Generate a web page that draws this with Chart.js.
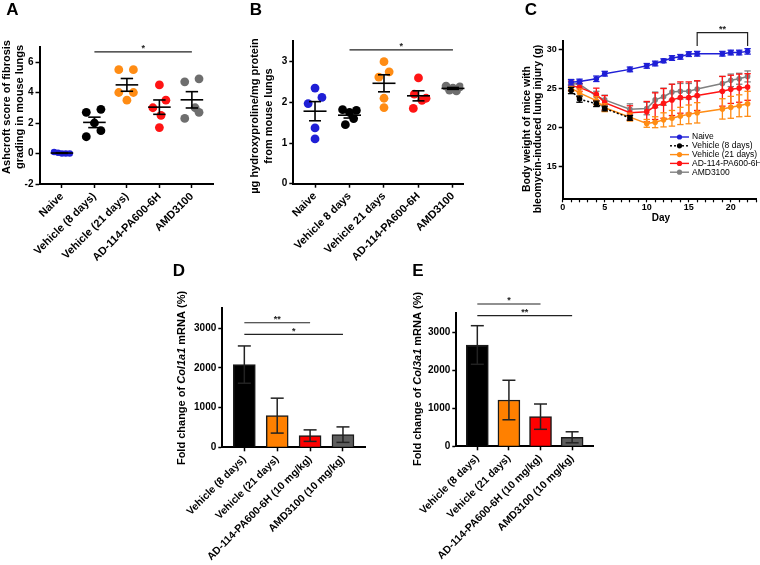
<!DOCTYPE html>
<html>
<head>
<meta charset="utf-8">
<script src="https://cdn.jsdelivr.net/npm/chart.js@4.4.0/dist/chart.umd.min.js"></script>
<style>
  body { margin: 0; background: #fff; }
  #figure { position: relative; width: 760px; height: 565px; overflow: hidden; background: #fff; }
  #figure canvas { position: absolute; }
</style>
</head>
<body>
<div id="figure">
  <canvas id="panelA" width="250" height="265" style="left:0;top:0"></canvas>
  <canvas id="panelB" width="250" height="265" style="left:250px;top:0"></canvas>
  <canvas id="panelC" width="260" height="235" style="left:500px;top:0"></canvas>
  <canvas id="panelD" width="250" height="310" style="left:140px;top:255px"></canvas>
  <canvas id="panelE" width="250" height="310" style="left:375px;top:255px"></canvas>
</div>
<script>
// ---- data ----
const groupsA = ['Naive', 'Vehicle (8 days)', 'Vehicle (21 days)', 'AD-114-PA600-6H', 'AMD3100']
const groupsB = ['Naive', 'Vehicle 8 days', 'Vehicle 21 days', 'AD-114-PA600-6H', 'AMD3100']

// A: Ashcroft score per mouse
const ashNaive = [0.1, 0.05, 0.0, 0.0, 0.0]
const ashVeh8 = [2.7, 2.9, 2.0, 1.1, 1.5]
const ashVeh21 = [5.5, 5.5, 3.5, 4.0, 4.0]
const ashAD = [4.5, 3.5, 3.0, 2.5, 1.7]
const ashAMD = [4.7, 4.9, 3.0, 2.7, 2.3]

// B: hydroxyproline (ug/mg protein) per mouse
const hypNaive = [2.35, 2.12, 1.97, 1.37, 1.1]
const hypVeh8 = [1.82, 1.75, 1.8, 1.6, 1.45]
const hypVeh21 = [3.0, 2.75, 2.62, 2.1, 1.87]
const hypAD = [2.6, 2.2, 2.1, 2.05, 1.85]
const hypAMD = [2.4, 2.38, 2.35, 2.3, 2.28]

// C: body weight (g), mean and SEM
const seriesC = ['Naive', 'Vehicle (8 days)', 'Vehicle (21 days)', 'AD-114-PA600-6H', 'AMD3100']
const daysAll = [1, 2, 4, 5, 8, 10, 11, 12, 13, 14, 15, 16, 19, 20, 21, 22]
const daysVeh8 = [1, 2, 4, 5, 8]
const weightNaive = [25.75, 25.85, 26.2, 26.85, 27.4, 27.85, 28.15, 28.5, 28.85, 29.0, 29.35, 29.4, 29.4, 29.55, 29.55, 29.7]
const semNaive = [0.35, 0.3, 0.35, 0.3, 0.3, 0.3, 0.3, 0.25, 0.3, 0.3, 0.3, 0.3, 0.3, 0.3, 0.3, 0.35]
const weightVeh8 = [24.7, 23.6, 23.0, 22.4, 21.2]
const semVeh8 = [0.4, 0.4, 0.35, 0.3, 0.3]
const weightVeh21 = [25.0, 24.4, 23.4, 22.5, 21.3, 20.5, 20.65, 20.95, 21.15, 21.45, 21.65, 21.85, 22.35, 22.55, 22.75, 23.0]
const semVeh21 = [0.4, 0.5, 0.5, 0.5, 0.5, 0.5, 0.7, 0.9, 1.0, 1.1, 1.2, 1.3, 1.3, 1.4, 1.4, 1.6]
const weightAD = [25.3, 25.1, 24.2, 23.15, 21.85, 22.0, 22.7, 23.05, 23.5, 23.8, 23.8, 24.05, 24.6, 24.85, 25.0, 25.15]
const semAD = [0.6, 0.5, 0.8, 0.9, 0.9, 1.3, 1.7, 1.9, 2.0, 2.0, 2.0, 1.9, 1.9, 1.8, 1.8, 1.7]
const weightAMD = [25.6, 25.5, 24.0, 23.5, 22.3, 22.4, 23.5, 23.9, 24.5, 24.6, 24.6, 24.9, 25.6, 26.0, 26.2, 26.5]
const semAMD = [0.5, 0.4, 0.6, 0.6, 0.7, 0.8, 1.0, 1.1, 1.0, 1.0, 1.0, 1.0, 0.9, 0.8, 0.7, 0.7]

// D / E: fold change of mRNA (%), mean and error
const groupsDE = ['Vehicle (8 days)', 'Vehicle (21 days)', 'AD-114-PA600-6H (10 mg/kg)', 'AMD3100 (10 mg/kg)']
const col1a1Mean = [2084, 798, 294, 319]
const col1a1Err = [470, 440, 145, 195]
const col3a1Mean = [2666, 1218, 780, 237]
const col3a1Err = [508, 520, 333, 145]

// significance annotations
const sigA = [{ from: 1, to: 4, y: 6.66, label: '*' }]
const sigB = [{ from: 1, to: 4, y: 3.29, label: '*' }]
const sigC = [{ from: 16, to: 22, y: 32.1, drop: 30.4, label: '**' }]
const sigD = [{ from: 0, to: 2, y: 3139, label: '**' }, { from: 0, to: 3, y: 2846, label: '*' }]
const sigE = [{ from: 0, to: 2, y: 3745, label: '*' }, { from: 0, to: 3, y: 3437, label: '**' }]

// ---- styling ----
const FONT = '"Liberation Sans", Arial, Helvetica, sans-serif'
const BLUE = '#1f1fd6'
const ORANGE = '#ff8c14'
const RED = '#ff1414'
const GREY = '#6e6e6e'
const groupColors = [BLUE, '#000000', ORANGE, RED, GREY]
const barColors = ['#000000', '#ff8000', '#ff0000', '#5e5e5e']
const lineColorsC = [BLUE, '#000000', ORANGE, RED, '#808080']

// horizontal spread of the dots inside each group (x units)
const jitterA = [
  [-0.24, -0.12, 0, 0.12, 0.24],
  [-0.25, 0.2, 0, -0.25, 0.2],
  [-0.25, 0.2, 0, -0.25, 0.2],
  [0, 0.2, -0.2, 0.05, 0],
  [-0.22, 0.22, 0.1, 0.22, -0.22],
]
const jitterB = [
  [0, 0.2, -0.2, 0, 0],
  [-0.2, 0, 0.2, 0.12, -0.12],
  [0, 0.15, -0.15, 0, 0],
  [0, -0.12, 0.22, 0.1, -0.15],
  [-0.2, 0.2, 0, -0.1, 0.1],
]

const font = (size, weight = 'bold') => ({ family: FONT, size, weight })

const mean = (a) => a.reduce((s, v) => s + v, 0) / a.length
const sem = (a) => {
  const m = mean(a)
  const sd = Math.sqrt(a.reduce((s, v) => s + (v - m) ** 2, 0) / (a.length - 1))
  return sd / Math.sqrt(a.length)
}

function stroke(ctx, pts) {
  ctx.beginPath()
  ctx.moveTo(pts[0], pts[1])
  for (let i = 2; i < pts.length; i += 2) ctx.lineTo(pts[i], pts[i + 1])
  ctx.stroke()
}

function drawText(ctx, item) {
  const segs = Array.isArray(item.text) ? item.text : [{ t: item.text }]
  const fontFor = (s) => `${s.italic ? 'italic ' : ''}${item.weight || 'bold'} ${item.size}px ${FONT}`
  ctx.save()
  ctx.translate(item.x, item.y)
  if (item.rotate) ctx.rotate((item.rotate * Math.PI) / 180)
  ctx.fillStyle = '#000'
  ctx.textBaseline = 'middle'
  ctx.textAlign = 'left'
  let total = 0
  segs.forEach((s) => {
    ctx.font = fontFor(s)
    total += ctx.measureText(s.t).width
  })
  let x = item.align === 'left' ? 0 : -total / 2
  segs.forEach((s) => {
    ctx.font = fontFor(s)
    ctx.fillText(s.t, x, 0)
    x += ctx.measureText(s.t).width
  })
  ctx.restore()
}

function drawSig(chart, s) {
  const { ctx, scales } = chart
  const x0 = scales.x.getPixelForValue(s.from)
  const x1 = scales.x.getPixelForValue(s.to)
  const py = scales.y.getPixelForValue(s.y)
  ctx.save()
  ctx.strokeStyle = '#222'
  ctx.lineWidth = 1.2
  if (s.drop != null) {
    const pd = scales.y.getPixelForValue(s.drop)
    stroke(ctx, [x0, pd, x0, py, x1, py, x1, pd])
  } else {
    stroke(ctx, [x0, py, x1, py])
  }
  ctx.fillStyle = '#222'
  ctx.font = `bold 9px ${FONT}`
  ctx.textAlign = 'center'
  ctx.textBaseline = 'alphabetic'
  ctx.fillText(s.label, (x0 + x1) / 2, py - 0.5)
  ctx.restore()
}

// panel texts + significance
function annotations(texts, sigs) {
  return {
    id: 'annotations',
    afterDraw(chart) {
      texts.forEach((t) => drawText(chart.ctx, t))
      sigs.forEach((s) => drawSig(chart, s))
    },
  }
}

// mean line with SEM whiskers over the dots
function meanSem(groups, halfMean, halfCap) {
  return {
    id: 'meanSem',
    afterDatasetsDraw(chart) {
      const { ctx, scales: { x, y } } = chart
      ctx.save()
      ctx.strokeStyle = '#000'
      ctx.lineWidth = 1.6
      groups.forEach((vals, g) => {
        const px = x.getPixelForValue(g)
        const m = mean(vals)
        const e = sem(vals)
        const pm = y.getPixelForValue(m)
        const lo = y.getPixelForValue(m - e)
        const hi = y.getPixelForValue(m + e)
        stroke(ctx, [px - halfMean, pm, px + halfMean, pm])
        stroke(ctx, [px, lo, px, hi])
        stroke(ctx, [px - halfCap, lo, px + halfCap, lo])
        stroke(ctx, [px - halfCap, hi, px + halfCap, hi])
      })
      ctx.restore()
    },
  }
}

function axis(size, extra) {
  return Object.assign({
    border: { display: true, color: '#000', width: 2 },
    grid: { display: true, drawOnChartArea: false, drawTicks: true, tickLength: 4, tickWidth: 1.5, tickColor: '#000', offset: false },
    ticks: { color: '#000', font: font(size), padding: 2 },
  }, extra)
}

function categoryAxis(labels, min, max, size, height) {
  const a = axis(size, {
    type: 'linear',
    min,
    max,
    offset: false,
    afterFit: (scale) => { scale.height = height },
  })
  a.ticks = Object.assign(a.ticks, {
    stepSize: 1,
    includeBounds: false,
    autoSkip: false,
    minRotation: 45,
    maxRotation: 45,
    callback: (v) => (Number.isInteger(v) ? labels[v] : null),
  })
  return a
}

// value axis; big ranges use a tick count instead of a step size
function valueAxis(min, max, step, size, width, maxTicks) {
  const a = axis(size, {
    type: 'linear',
    min,
    max,
    afterFit: (scale) => { scale.width = width },
  })
  const t = maxTicks ? { maxTicksLimit: maxTicks } : { stepSize: step }
  a.ticks = Object.assign(a.ticks, t, { includeBounds: false, callback: (v) => String(v) })
  return a
}

const base = {
  responsive: false,
  animation: false,
  devicePixelRatio: 1,
  events: [],
}
const quiet = { legend: { display: false }, tooltip: { enabled: false } }

function dotDatasets(groups, jitter, radii) {
  return groups.map((vals, g) => ({
    data: vals.map((v, i) => ({ x: g + jitter[g][i], y: v })),
    backgroundColor: groupColors[g],
    borderColor: groupColors[g],
    borderWidth: 0,
    pointRadius: radii[g],
  }))
}

// ---- A ----
const groupsAvals = [ashNaive, ashVeh8, ashVeh21, ashAD, ashAMD]
new Chart(document.getElementById('panelA'), {
  type: 'scatter',
  data: { datasets: dotDatasets(groupsAvals, jitterA, [3.3, 4.4, 4.4, 4.4, 4.4]) },
  options: {
    ...base,
    layout: { padding: { left: 0, top: 46.75, right: 37, bottom: 0 } },
    plugins: quiet,
    scales: {
      x: categoryAxis(groupsA, -0.69, 4.65, 11, 81),
      y: valueAxis(-2, 7, 2, 10, 39.5),
    },
  },
  plugins: [
    meanSem(groupsAvals, 11.3, 6.2),
    annotations([
      { text: 'A', x: 12.5, y: 10.5, size: 17 },
      { text: 'Ashcroft score of fibrosis', x: 6.7, y: 107, size: 11, rotate: -90 },
      { text: 'grading in mouse lungs', x: 20, y: 107, size: 11, rotate: -90 },
    ], sigA),
  ],
})

// ---- B ----
const groupsBvals = [hypNaive, hypVeh8, hypVeh21, hypAD, hypAMD]
new Chart(document.getElementById('panelB'), {
  type: 'scatter',
  data: { datasets: dotDatasets(groupsBvals, jitterB, [4.4, 4.4, 4.4, 4.4, 4.4]) },
  options: {
    ...base,
    layout: { padding: { left: 0, top: 41.3, right: 36.7, bottom: 0 } },
    plugins: quiet,
    scales: {
      x: categoryAxis(groupsB, -0.63, 4.3, 11, 81.3),
      y: valueAxis(0, 3.5, 1, 10, 43.3),
    },
  },
  plugins: [
    meanSem(groupsBvals, 11.5, 6),
    annotations([
      { text: 'B', x: 6, y: 10.5, size: 17 },
      { text: 'µg hydroxyproline/mg protein', x: 5, y: 116, size: 11, rotate: -90 },
      { text: 'from mouse lungs', x: 18.5, y: 116, size: 11, rotate: -90 },
    ], sigB),
  ],
})

// ---- C ----
const linesC = [
  { days: daysAll, w: weightNaive, err: semNaive },
  { days: daysVeh8, w: weightVeh8, err: semVeh8, dash: [2, 2] },
  { days: daysAll, w: weightVeh21, err: semVeh21 },
  { days: daysAll, w: weightAD, err: semAD },
  { days: daysAll, w: weightAMD, err: semAMD },
]

const errorBarsC = {
  id: 'errorBarsC',
  afterDatasetDraw(chart, args) {
    const s = linesC[args.index]
    const { ctx, scales: { x, y } } = chart
    ctx.save()
    ctx.strokeStyle = lineColorsC[args.index]
    ctx.lineWidth = 1.3
    s.days.forEach((d, i) => {
      const px = x.getPixelForValue(d)
      const lo = y.getPixelForValue(s.w[i] - s.err[i])
      const hi = y.getPixelForValue(s.w[i] + s.err[i])
      stroke(ctx, [px, lo, px, hi])
      stroke(ctx, [px - 3.2, lo, px + 3.2, lo])
      stroke(ctx, [px - 3.2, hi, px + 3.2, hi])
    })
    ctx.restore()
  },
}

const legendC = {
  id: 'legendC',
  afterDraw(chart) {
    const ctx = chart.ctx
    ctx.save()
    seriesC.forEach((name, i) => {
      const ry = 137 + i * 8.8
      const lx = 170
      ctx.strokeStyle = lineColorsC[i]
      ctx.fillStyle = lineColorsC[i]
      ctx.lineWidth = 1.4
      ctx.setLineDash(linesC[i].dash || [])
      stroke(ctx, [lx, ry, lx + 19, ry])
      ctx.setLineDash([])
      ctx.beginPath()
      ctx.arc(lx + 9.5, ry, 2.6, 0, Math.PI * 2)
      ctx.fill()
      drawText(ctx, { text: name, x: lx + 22, y: ry, size: 8.5, weight: 'normal', align: 'left' })
    })
    ctx.restore()
  },
}

const xC = axis(9, { type: 'linear', min: 0, max: 23, afterFit: (scale) => { scale.height = 35.7 } })
xC.grid = Object.assign(xC.grid, { tickLength: 3, tickWidth: 1.2 })
xC.ticks = Object.assign(xC.ticks, {
  stepSize: 1,
  autoSkip: false,
  maxRotation: 0,
  includeBounds: false,
  padding: 0,
  callback: (v) => (v % 5 === 0 ? String(v) : ''),
})

new Chart(document.getElementById('panelC'), {
  type: 'line',
  data: {
    datasets: linesC.map((s, i) => ({
      label: seriesC[i],
      data: s.days.map((d, k) => ({ x: d, y: s.w[k] })),
      borderColor: lineColorsC[i],
      backgroundColor: lineColorsC[i],
      borderWidth: 1.5,
      borderDash: s.dash || [],
      pointRadius: 2.8,
      pointBorderWidth: 0,
      fill: false,
      tension: 0,
    })),
  },
  options: {
    ...base,
    layout: { padding: { left: 0, top: 41.2, right: 0, bottom: 0 } },
    plugins: quiet,
    scales: {
      x: xC,
      y: valueAxis(10.8, 31, 5, 9, 62.7),
    },
  },
  plugins: [
    errorBarsC,
    legendC,
    annotations([
      { text: 'C', x: 31, y: 10.5, size: 17 },
      { text: 'Body weight of mice with', x: 26.7, y: 129, size: 10.5, rotate: -90 },
      { text: 'bleomycin-induced lung injury (g)', x: 38.3, y: 129, size: 10.5, rotate: -90 },
      { text: 'Day', x: 161, y: 218, size: 10 },
    ], sigC),
  ],
})

// ---- D / E ----
function errorBarsDE(errs, means) {
  return {
    id: 'errorBarsDE',
    afterDatasetsDraw(chart) {
      const { ctx, scales: { x, y } } = chart
      ctx.save()
      ctx.strokeStyle = '#222'
      ctx.lineWidth = 1.5
      means.forEach((m, i) => {
        const px = x.getPixelForValue(i)
        const lo = y.getPixelForValue(m - errs[i])
        const hi = y.getPixelForValue(m + errs[i])
        stroke(ctx, [px, lo, px, hi])
        stroke(ctx, [px - 6.5, lo, px + 6.5, lo])
        stroke(ctx, [px - 6.5, hi, px + 6.5, hi])
      })
      ctx.restore()
    },
  }
}

function barPanel(id, means, errs, area, letter, gene, sigs, titleX, titleY) {
  new Chart(document.getElementById(id), {
    type: 'bar',
    data: {
      datasets: [{
        data: means.map((v, i) => ({ x: i, y: v })),
        backgroundColor: barColors,
        borderColor: '#1a1a1a',
        borderWidth: 1.5,
        borderSkipped: 'start',
        barThickness: 22,
      }],
    },
    options: {
      ...base,
      layout: { padding: { left: 0, top: area.top, right: area.right, bottom: 0 } },
      plugins: quiet,
      scales: {
        x: categoryAxis(groupsDE, area.min, area.max, 10.5, area.xh),
        y: valueAxis(0, 3500, null, 10, area.yw, 5),
      },
    },
    plugins: [
      errorBarsDE(errs, means),
      annotations([
        { text: letter, x: letter === 'D' ? 39 : 43, y: 16.5, size: 17 },
        {
          text: [{ t: 'Fold change of ' }, { t: gene, italic: true }, { t: ' mRNA (%)' }],
          x: titleX, y: titleY, size: 11, rotate: -90,
        },
      ], sigs),
    ],
  })
}

barPanel('panelD', col1a1Mean, col1a1Err,
  { top: 53.4, right: 25, min: -0.67, max: 3.67, xh: 117.7, yw: 82.3 },
  'D', 'Col1a1', sigD, 42, 123)
barPanel('panelE', col3a1Mean, col3a1Err,
  { top: 58.3, right: 31.7, min: -0.665, max: 3.67, xh: 118.7, yw: 81.3 },
  'E', 'Col3a1', sigE, 43, 124)
</script>
</body>
</html>
